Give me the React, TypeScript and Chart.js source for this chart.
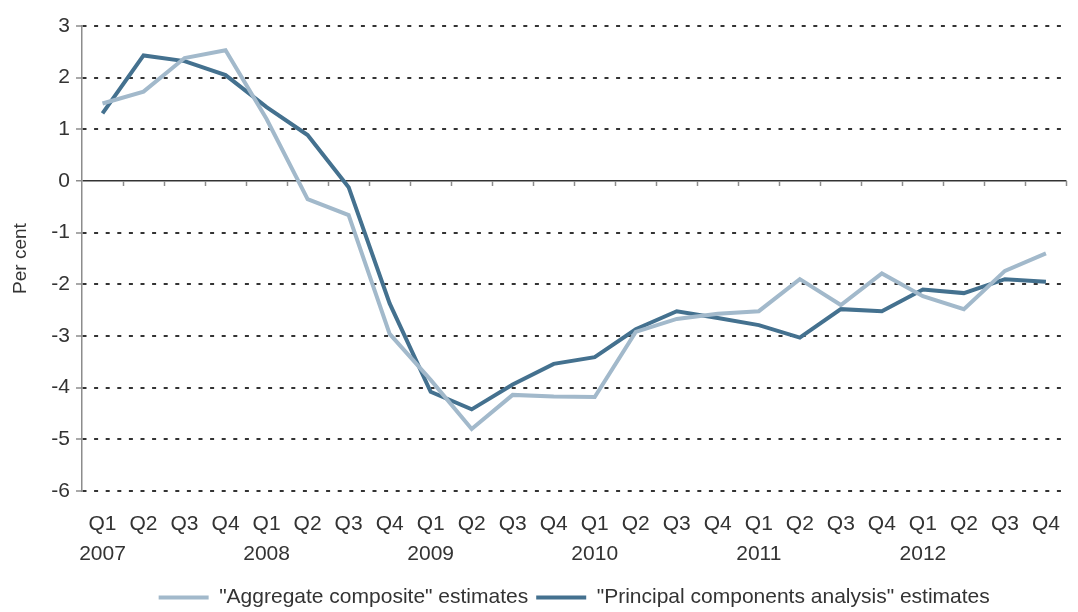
import React, { useEffect, useRef } from "react";
import { Chart, registerables } from "chart.js";

Chart.register(...registerables);

const quarters = ["Q1","Q2","Q3","Q4","Q1","Q2","Q3","Q4","Q1","Q2","Q3","Q4","Q1","Q2","Q3","Q4","Q1","Q2","Q3","Q4","Q1","Q2","Q3","Q4"];
const years = ["2007","","","","2008","","","","2009","","","","2010","","","","2011","","","","2012","","",""];

const aggregateComposite = [1.5, 1.73, 2.38, 2.53, 1.2, -0.35, -0.66, -2.96, -3.85, -4.8, -4.14, -4.17, -4.18, -2.92, -2.67, -2.57, -2.52, -1.9, -2.4, -1.79, -2.23, -2.48, -1.74, -1.4];
const principalComponents = [1.31, 2.43, 2.32, 2.05, 1.43, 0.89, -0.12, -2.37, -4.08, -4.42, -3.94, -3.54, -3.41, -2.87, -2.52, -2.65, -2.79, -3.03, -2.48, -2.52, -2.1, -2.17, -1.9, -1.95];

const seriesNames = ['"Aggregate composite" estimates', '"Principal components analysis" estimates'];
const seriesColors = ["#a2b9cb", "#44718f"];

const FONT = "'Liberation Sans', Arial, sans-serif";
const TEXT = "#333333";

const zeroAxisPlugin = {
  id: "zeroAxis",
  afterDatasetsDraw(chart: any) {
    const { ctx, chartArea, scales } = chart;
    const y = scales.y;
    const y0 = y.getPixelForValue(0);
    ctx.save();
    ctx.strokeStyle = "#8c8c8c";
    ctx.lineWidth = 1.5;
    const n = quarters.length;
    const step = (chartArea.right - chartArea.left) / n;
    for (let i = 1; i <= n; i++) {
      const px = Math.round(chartArea.left + i * step) + 0.5;
      ctx.beginPath();
      ctx.moveTo(px, y0);
      ctx.lineTo(px, y0 + 5);
      ctx.stroke();
    }
    ctx.restore();
  },
};

export default function App() {
  const ref = useRef<HTMLCanvasElement | null>(null);
  useEffect(() => {
    if (!ref.current) return;
    const labels = quarters.map((q, i) => [q, years[i]]);
    const chart = new Chart(ref.current, {
      type: "line",
      data: {
        labels,
        datasets: [
          {
            label: seriesNames[0],
            data: aggregateComposite,
            borderColor: seriesColors[0],
            backgroundColor: seriesColors[0],
            borderWidth: 4,
            pointRadius: 0,
            tension: 0,
            fill: false,
          },
          {
            label: seriesNames[1],
            data: principalComponents,
            borderColor: seriesColors[1],
            backgroundColor: seriesColors[1],
            borderWidth: 4,
            pointRadius: 0,
            tension: 0,
            fill: false,
          },
        ],
      },
      options: {
        animation: false,
        responsive: false,
        maintainAspectRatio: false,
        layout: { padding: { top: 26, right: 3, left: 0, bottom: -6 } },
        plugins: {
          tooltip: { enabled: false },
          legend: {
            position: "bottom",
            fullSize: false,
            labels: {
              color: TEXT,
              font: { family: FONT, size: 21 },
              boxWidth: 50,
              boxHeight: 4,
              padding: 8,
              generateLabels: (c: any) =>
                c.data.datasets.map((d: any, i: number) => ({
                  text: d.label,
                  fillStyle: d.borderColor,
                  strokeStyle: d.borderColor,
                  lineWidth: 0,
                  hidden: false,
                  datasetIndex: i,
                  fontColor: TEXT,
                })),
            },
          },
        },
        scales: {
          x: {
            type: "category",
            offset: true,
            grid: { display: false, drawTicks: false },
            border: { display: false },
            ticks: {
              color: TEXT,
              font: { family: FONT, size: 21, lineHeight: 1.42 },
              padding: 18,
              maxRotation: 0,
              autoSkip: false,
            },
            afterFit: (s: any) => {
              s.height = 88;
            },
          },
          y: {
            min: -6,
            max: 3,
            ticks: {
              stepSize: 1,
              color: TEXT,
              font: { family: FONT, size: 21 },
              padding: 6,
            },
            grid: {
              color: "#333333",
              lineWidth: (c: any) => (c.tick && c.tick.value === 0 ? 1.5 : 2),
              tickLength: 6,
              tickColor: "#8c8c8c",
              tickWidth: 1.5,
            },
            border: {
              display: true,
              color: "#8c8c8c",
              width: 1.5,
              dash: (c: any) => (c.tick && c.tick.value === 0 ? [] : [4, 7.6]),
            } as any,
            title: {
              display: true,
              text: "Per cent",
              color: TEXT,
              font: { family: FONT, size: 19 },
              padding: { top: 9, bottom: 4 },
            },
            afterFit: (s: any) => {
              s.width = 82;
            },
          },
        },
      },
      plugins: [zeroAxisPlugin],
    });
    return () => chart.destroy();
  }, []);
  return (
    <div style={{ position: "fixed", left: 0, top: 0, width: 1078, height: 612, background: "#fff" }}>
      <canvas ref={ref} width={1078} height={612} style={{ display: "block" }} />
    </div>
  );
}
